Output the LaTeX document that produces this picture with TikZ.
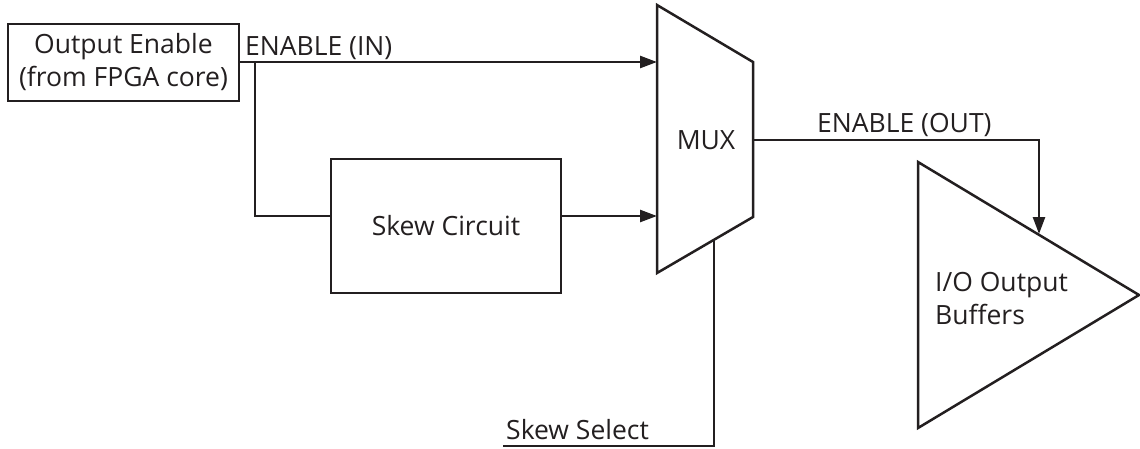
\documentclass[tikz,border=0pt]{standalone}
\usepackage{fontspec}
\setmainfont{Open Sans}
\usetikzlibrary{arrows.meta}
\definecolor{ink}{HTML}{231F20}
\begin{document}
\begin{tikzpicture}[x=1pt,y=-1pt,
  every node/.style={text=ink,font=\fontsize{26.5}{33}\selectfont},
  wire/.style={draw=ink,line width=2.5pt},
  arr/.style={wire,-{Triangle[length=17pt,width=12pt]}},
  blockbox/.style={draw=ink,line width=2.5pt,rectangle,inner sep=0pt,align=center},
  lbl/.style={inner sep=0pt,anchor=base west}]
\useasboundingbox (0,0) rectangle (1140,448);
% blocks
\node[blockbox,minimum width=231pt,minimum height=77pt] (oe) at (123.5,62.5) {Output Enable\\(from FPGA core)};
\node[blockbox,minimum width=230pt,minimum height=134pt] (skew) at (446,226) {Skew Circuit};
% MUX
\coordinate (mtl) at (657,5);
\coordinate (mbl) at (657,273);
\coordinate (mtr) at (753,62);
\coordinate (mbr) at (753,217);
\draw[wire,line join=miter] (mtl) -- (mtr) -- (mbr) -- (mbl) -- cycle;
\node (mux) at (706,140) {MUX};
\coordinate (min1) at (657,62);
\coordinate (min2) at (657,216);
\coordinate (mout) at (753,140);
\coordinate (msel) at (714,240);
% buffer triangle
\coordinate (tt) at (918,162);
\coordinate (tb) at (918,428);
\coordinate (ta) at (1139,295);
\draw[wire,line join=miter] (tt) -- (ta) -- (tb) -- cycle;
\node[align=left,anchor=west,inner sep=0pt] (buf) at (935,299) {I/O Output\\Buffers};
\coordinate (bin) at (1039,234);
% connectors
\coordinate (split) at (255,62);
\coordinate (bend) at (255,216);
\draw[arr] (oe.east |- min1) -- (min1);
\draw[wire] (split) -- (bend) -- (skew.west |- bend);
\draw[arr] (skew.east |- min2) -- (min2);
\coordinate (ocorner) at (1039,140);
\draw[arr] (mout) -- (ocorner) -- (bin);
\coordinate (selb) at (714,446);
\coordinate (selend) at (503,446);
\draw[wire] (msel) -- (selb) -- (selend);
% labels
\node[lbl] (lin) at (245,55) {ENABLE (IN)};
\node[lbl] (lout) at (817,132) {ENABLE (OUT)};
\node[lbl] (lsel) at (506,439) {Skew Select};
\end{tikzpicture}
\end{document}
